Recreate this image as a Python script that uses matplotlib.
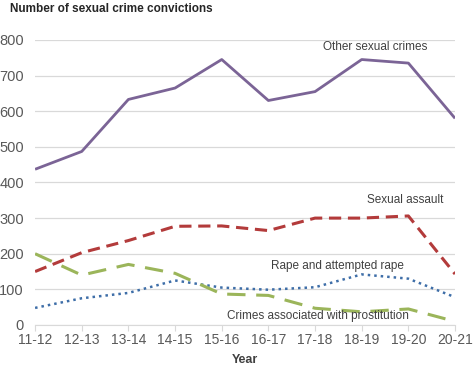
import numpy as np
import matplotlib
matplotlib.use("Agg")
import matplotlib.pyplot as plt

plt.rcParams['font.family'] = ['Liberation Sans', 'DejaVu Sans']

years = ["11-12", "12-13", "13-14", "14-15", "15-16", "16-17", "17-18", "18-19", "19-20", "20-21"]
other_sexual = [437, 487, 633, 665, 745, 630, 655, 745, 735, 580]
sexual_assault = [150, 203, 237, 277, 278, 265, 300, 300, 306, 143]
rape = [48, 75, 90, 125, 105, 99, 106, 142, 130, 78]
prostitution = [200, 140, 170, 145, 87, 83, 47, 37, 45, 10]

fig = plt.figure(figsize=(4.74, 3.65), dpi=100)
ax = fig.add_axes([0.074, 0.1096, 0.886, 0.781])
x = np.arange(len(years))

ax.plot(x, other_sexual, color='#7b6496', lw=2, solid_capstyle='butt')
ax.plot(x, sexual_assault, color='#b33b3b', lw=2.2, dashes=(4, 2.2))
ax.plot(x, rape, color='#3e6ea8', lw=1.8, dashes=(1, 1.6))
ax.plot(x, prostitution, color='#9bb55a', lw=2.2, dashes=(6, 3.5))

txt = dict(color='#404040', fontsize=8.5, ha='center', va='center')
ax.text(7.29, 780, "Other sexual crimes", **txt)
ax.text(7.93, 351, "Sexual assault", **txt)
ax.text(6.49, 166, "Rape and attempted rape", **txt)
ax.text(6.06, 25, "Crimes associated with prostitution", **txt)

ax.set_xlim(0, 9)
ax.set_ylim(0, 800)
ax.set_xticks(x)
ax.set_xticklabels(years)
ax.set_yticks(range(0, 801, 100))
ax.grid(axis='y', color='#d9d9d9', lw=0.9)
ax.set_axisbelow(True)
for s in ['top', 'right', 'left']:
    ax.spines[s].set_visible(False)
ax.spines['bottom'].set_color('#d9d9d9')
ax.tick_params(axis='y', length=0, pad=8, labelsize=10.5, labelcolor='#595959')
ax.tick_params(axis='x', length=4, color='#d9d9d9', pad=2, labelsize=10, labelcolor='#595959')
ax.set_xlabel("Year", fontsize=9, fontweight='bold', color='#404040', labelpad=5)
for lab in ax.get_yticklabels() + ax.get_xticklabels():
    lab.set_clip_on(False)

fig.text(0.021, 0.992, "Number of sexual crime convictions", fontsize=8.5, fontweight='bold',
         color='#262626', ha='left', va='top')

fig.savefig("out.png", dpi=100)
